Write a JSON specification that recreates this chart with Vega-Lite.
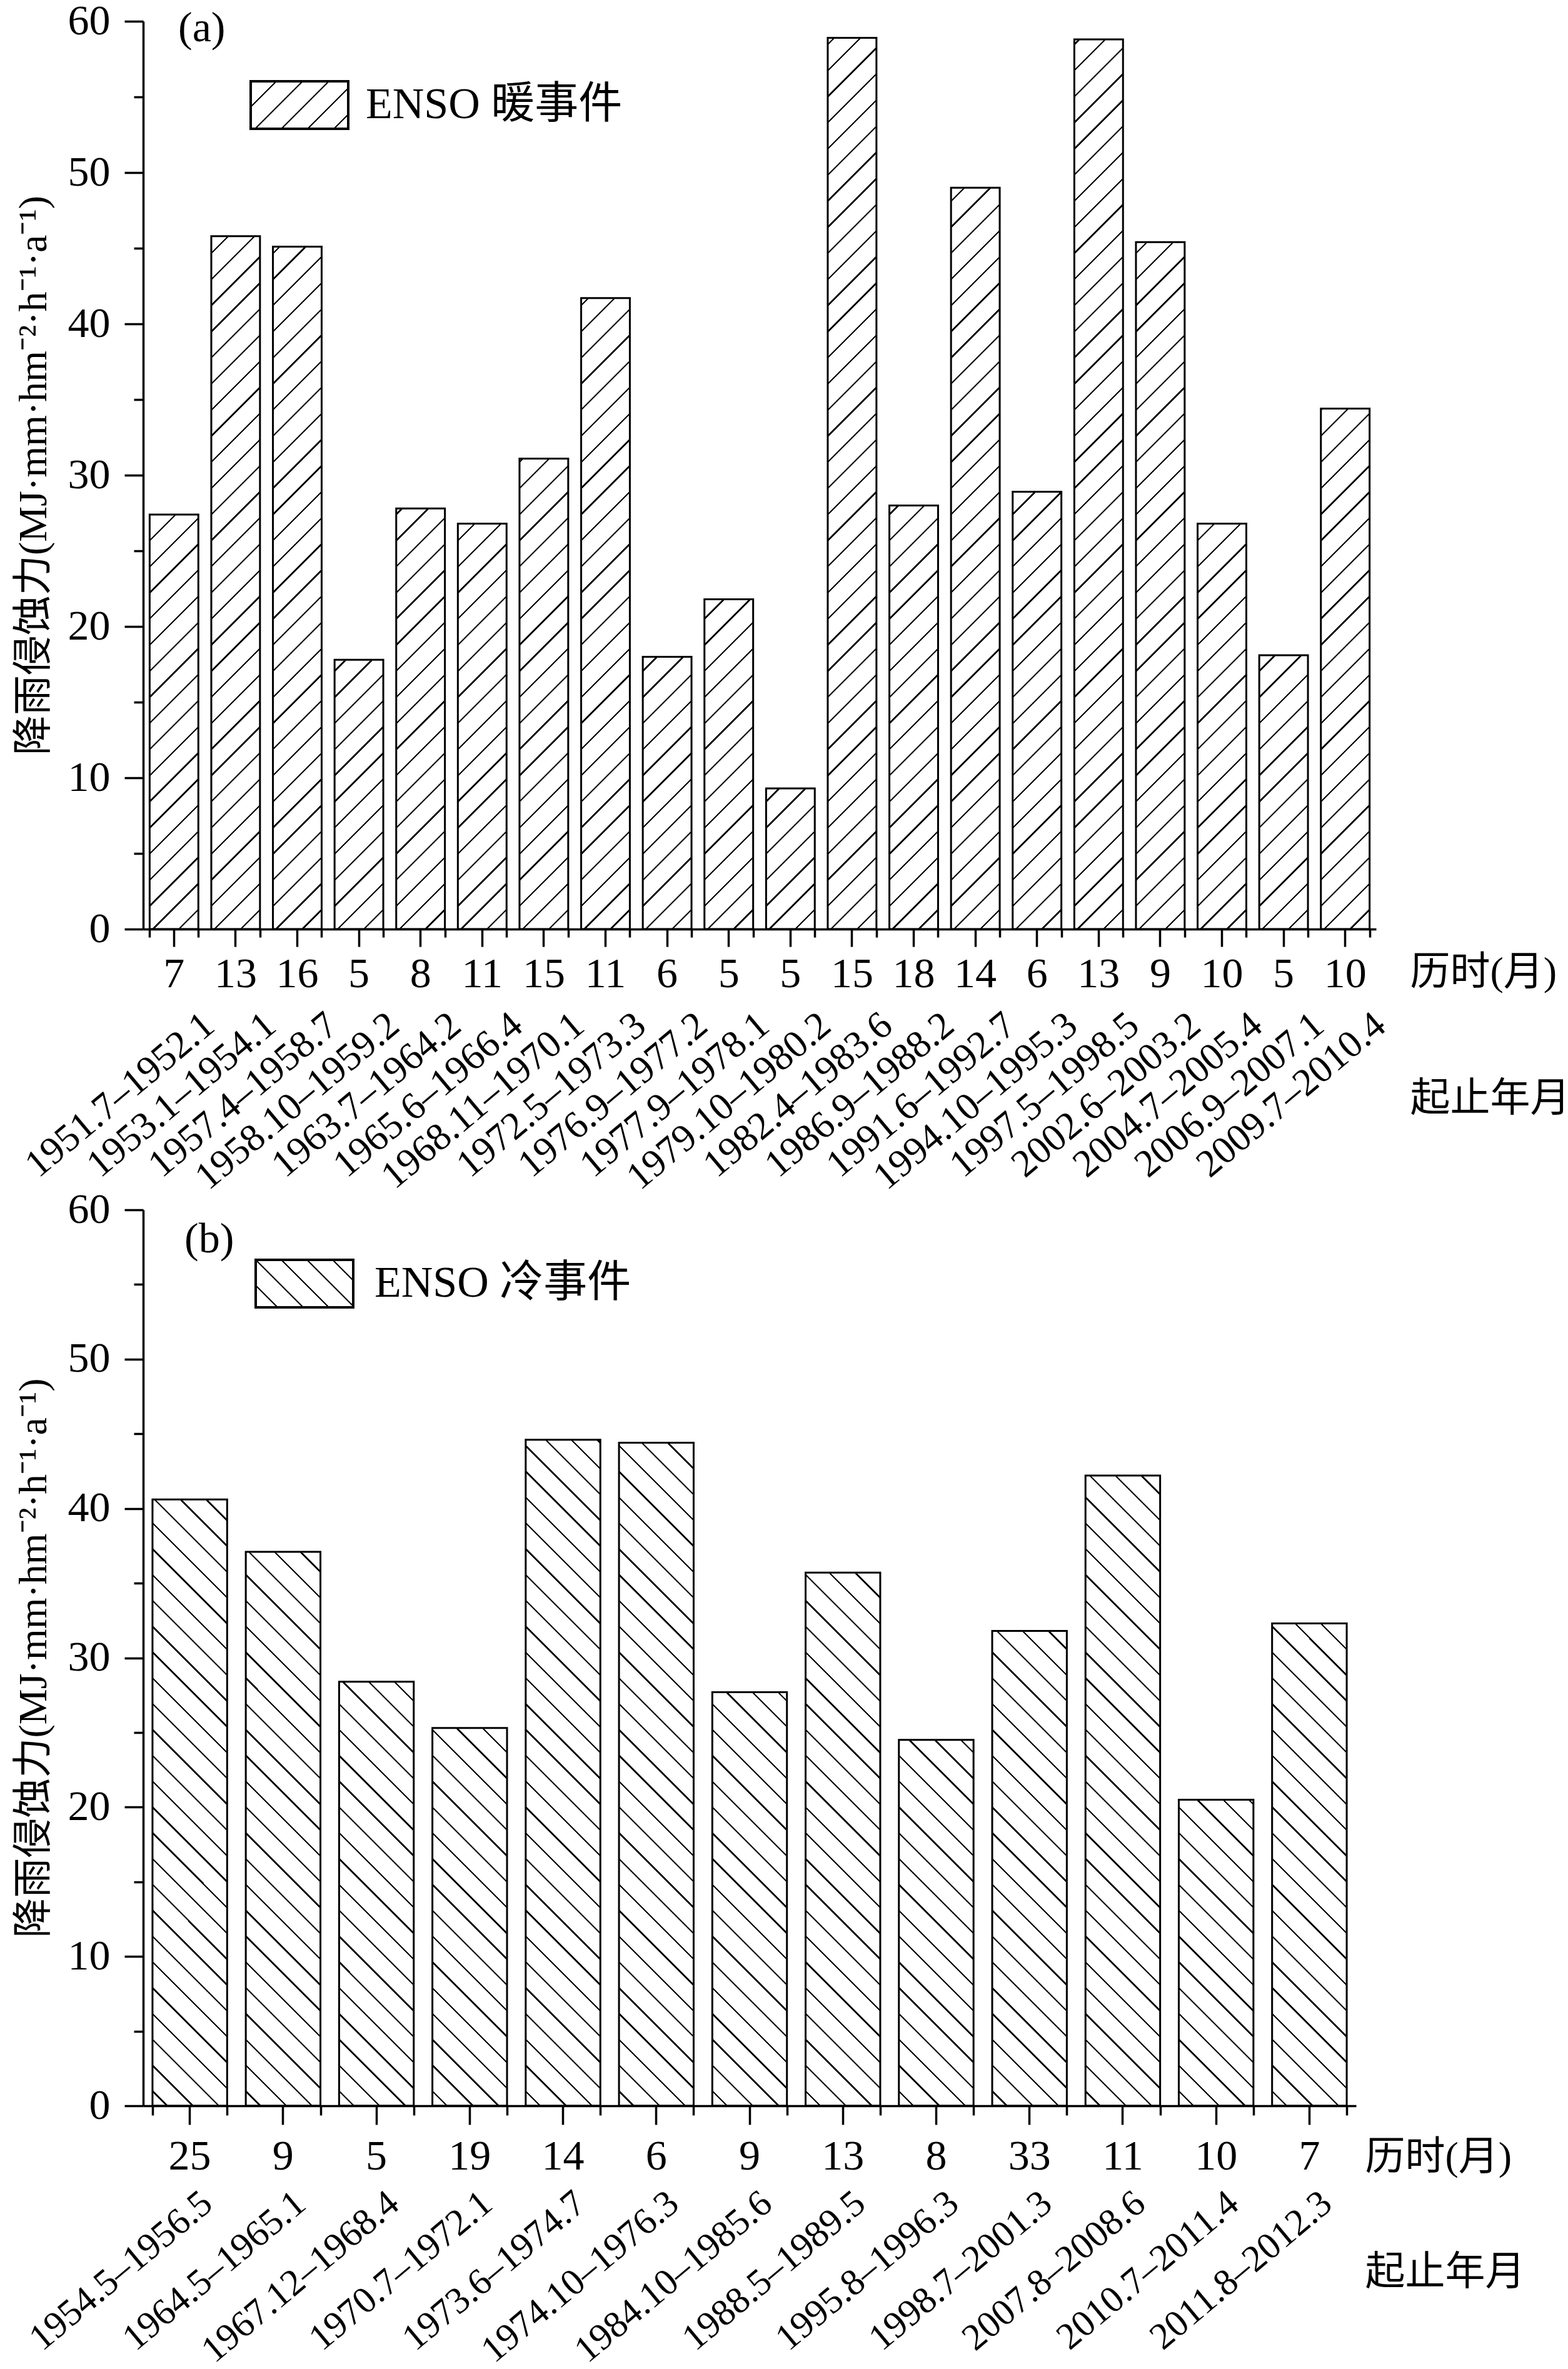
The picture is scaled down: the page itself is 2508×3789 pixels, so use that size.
{
  "$schema": "https://vega.github.io/schema/vega-lite/v6.json",
  "padding": {"left": 22, "top": 0, "right": 0, "bottom": 0},
  "bounds": "flush",
  "spacing": 449,
  "resolve": {"scale": {"stroke": "independent"}, "legend": {"stroke": "independent"}},
  "vconcat": [
    {
      "width": 1972,
      "height": 1452,
      "title": {"text": "(a)", "anchor": "start", "frame": "group", "orient": "top", "offset": 0, "dx": 56, "dy": 134, "baseline": "alphabetic"},
      "data": {
        "values": [
          {"period": "1951.7–1952.1", "months": 7, "R": 27.4},
          {"period": "1953.1–1954.1", "months": 13, "R": 45.8},
          {"period": "1957.4–1958.7", "months": 16, "R": 45.1},
          {"period": "1958.10–1959.2", "months": 5, "R": 17.8},
          {"period": "1963.7–1964.2", "months": 8, "R": 27.8},
          {"period": "1965.6–1966.4", "months": 11, "R": 26.8},
          {"period": "1968.11–1970.1", "months": 15, "R": 31.1},
          {"period": "1972.5–1973.3", "months": 11, "R": 41.7},
          {"period": "1976.9–1977.2", "months": 6, "R": 18.0},
          {"period": "1977.9–1978.1", "months": 5, "R": 21.8},
          {"period": "1979.10–1980.2", "months": 5, "R": 9.3},
          {"period": "1982.4–1983.6", "months": 15, "R": 58.9},
          {"period": "1986.9–1988.2", "months": 18, "R": 28.0},
          {"period": "1991.6–1992.7", "months": 14, "R": 49.0},
          {"period": "1994.10–1995.3", "months": 6, "R": 28.9},
          {"period": "1997.5–1998.5", "months": 13, "R": 58.8},
          {"period": "2002.6–2003.2", "months": 9, "R": 45.4},
          {"period": "2004.7–2005.4", "months": 10, "R": 26.8},
          {"period": "2006.9–2007.1", "months": 5, "R": 18.1},
          {"period": "2009.7–2010.4", "months": 10, "R": 34.4}
        ]
      },
      "transform": [{"calculate": "datum.months + '|' + datum.period", "as": "key"}],
      "layer": [
        {
          "mark": {
            "type": "bar",
            "strokeWidth": 0,
            "fill": {
              "gradient": "linear", "x1": 0, "y1": 0, "x2": 0.05637, "y2": 1.05063,
              "stops": [
                {"offset":0.0231,"color":"#fff"},{"offset":0.0231,"color":"#000"},{"offset":0.0253,"color":"#000"},{"offset":0.0253,"color":"#fff"},
                {"offset":0.0504,"color":"#fff"},{"offset":0.0504,"color":"#000"},{"offset":0.0526,"color":"#000"},{"offset":0.0526,"color":"#fff"},
                {"offset":0.0777,"color":"#fff"},{"offset":0.0777,"color":"#000"},{"offset":0.0799,"color":"#000"},{"offset":0.0799,"color":"#fff"},
                {"offset":0.1050,"color":"#fff"},{"offset":0.1050,"color":"#000"},{"offset":0.1072,"color":"#000"},{"offset":0.1072,"color":"#fff"},
                {"offset":0.1323,"color":"#fff"},{"offset":0.1323,"color":"#000"},{"offset":0.1345,"color":"#000"},{"offset":0.1345,"color":"#fff"},
                {"offset":0.1596,"color":"#fff"},{"offset":0.1596,"color":"#000"},{"offset":0.1618,"color":"#000"},{"offset":0.1618,"color":"#fff"},
                {"offset":0.1869,"color":"#fff"},{"offset":0.1869,"color":"#000"},{"offset":0.1891,"color":"#000"},{"offset":0.1891,"color":"#fff"},
                {"offset":0.2142,"color":"#fff"},{"offset":0.2142,"color":"#000"},{"offset":0.2164,"color":"#000"},{"offset":0.2164,"color":"#fff"},
                {"offset":0.2415,"color":"#fff"},{"offset":0.2415,"color":"#000"},{"offset":0.2437,"color":"#000"},{"offset":0.2437,"color":"#fff"},
                {"offset":0.2688,"color":"#fff"},{"offset":0.2688,"color":"#000"},{"offset":0.2710,"color":"#000"},{"offset":0.2710,"color":"#fff"},
                {"offset":0.2961,"color":"#fff"},{"offset":0.2961,"color":"#000"},{"offset":0.2983,"color":"#000"},{"offset":0.2983,"color":"#fff"},
                {"offset":0.3234,"color":"#fff"},{"offset":0.3234,"color":"#000"},{"offset":0.3256,"color":"#000"},{"offset":0.3256,"color":"#fff"},
                {"offset":0.3507,"color":"#fff"},{"offset":0.3507,"color":"#000"},{"offset":0.3529,"color":"#000"},{"offset":0.3529,"color":"#fff"},
                {"offset":0.3780,"color":"#fff"},{"offset":0.3780,"color":"#000"},{"offset":0.3802,"color":"#000"},{"offset":0.3802,"color":"#fff"},
                {"offset":0.4053,"color":"#fff"},{"offset":0.4053,"color":"#000"},{"offset":0.4075,"color":"#000"},{"offset":0.4075,"color":"#fff"},
                {"offset":0.4326,"color":"#fff"},{"offset":0.4326,"color":"#000"},{"offset":0.4348,"color":"#000"},{"offset":0.4348,"color":"#fff"},
                {"offset":0.4599,"color":"#fff"},{"offset":0.4599,"color":"#000"},{"offset":0.4621,"color":"#000"},{"offset":0.4621,"color":"#fff"},
                {"offset":0.4872,"color":"#fff"},{"offset":0.4872,"color":"#000"},{"offset":0.4894,"color":"#000"},{"offset":0.4894,"color":"#fff"},
                {"offset":0.5145,"color":"#fff"},{"offset":0.5145,"color":"#000"},{"offset":0.5167,"color":"#000"},{"offset":0.5167,"color":"#fff"},
                {"offset":0.5418,"color":"#fff"},{"offset":0.5418,"color":"#000"},{"offset":0.5440,"color":"#000"},{"offset":0.5440,"color":"#fff"},
                {"offset":0.5691,"color":"#fff"},{"offset":0.5691,"color":"#000"},{"offset":0.5713,"color":"#000"},{"offset":0.5713,"color":"#fff"},
                {"offset":0.5964,"color":"#fff"},{"offset":0.5964,"color":"#000"},{"offset":0.5986,"color":"#000"},{"offset":0.5986,"color":"#fff"},
                {"offset":0.6237,"color":"#fff"},{"offset":0.6237,"color":"#000"},{"offset":0.6259,"color":"#000"},{"offset":0.6259,"color":"#fff"},
                {"offset":0.6510,"color":"#fff"},{"offset":0.6510,"color":"#000"},{"offset":0.6532,"color":"#000"},{"offset":0.6532,"color":"#fff"},
                {"offset":0.6783,"color":"#fff"},{"offset":0.6783,"color":"#000"},{"offset":0.6805,"color":"#000"},{"offset":0.6805,"color":"#fff"},
                {"offset":0.7056,"color":"#fff"},{"offset":0.7056,"color":"#000"},{"offset":0.7078,"color":"#000"},{"offset":0.7078,"color":"#fff"},
                {"offset":0.7329,"color":"#fff"},{"offset":0.7329,"color":"#000"},{"offset":0.7351,"color":"#000"},{"offset":0.7351,"color":"#fff"},
                {"offset":0.7602,"color":"#fff"},{"offset":0.7602,"color":"#000"},{"offset":0.7624,"color":"#000"},{"offset":0.7624,"color":"#fff"},
                {"offset":0.7875,"color":"#fff"},{"offset":0.7875,"color":"#000"},{"offset":0.7897,"color":"#000"},{"offset":0.7897,"color":"#fff"},
                {"offset":0.8148,"color":"#fff"},{"offset":0.8148,"color":"#000"},{"offset":0.8170,"color":"#000"},{"offset":0.8170,"color":"#fff"},
                {"offset":0.8421,"color":"#fff"},{"offset":0.8421,"color":"#000"},{"offset":0.8443,"color":"#000"},{"offset":0.8443,"color":"#fff"},
                {"offset":0.8694,"color":"#fff"},{"offset":0.8694,"color":"#000"},{"offset":0.8716,"color":"#000"},{"offset":0.8716,"color":"#fff"},
                {"offset":0.8967,"color":"#fff"},{"offset":0.8967,"color":"#000"},{"offset":0.8989,"color":"#000"},{"offset":0.8989,"color":"#fff"},
                {"offset":0.9240,"color":"#fff"},{"offset":0.9240,"color":"#000"},{"offset":0.9262,"color":"#000"},{"offset":0.9262,"color":"#fff"},
                {"offset":0.9513,"color":"#fff"},{"offset":0.9513,"color":"#000"},{"offset":0.9535,"color":"#000"},{"offset":0.9535,"color":"#fff"},
                {"offset":0.9786,"color":"#fff"},{"offset":0.9786,"color":"#000"},{"offset":0.9808,"color":"#000"},{"offset":0.9808,"color":"#fff"}
              ]
            }
          },
          "encoding": {
            "x": {"field": "key", "type": "nominal", "sort": null,
                  "scale": {"paddingInner": 0.21, "paddingOuter": 0.105},
                  "axis": {"orient": "bottom", "tickBand": "extent", "labels": false, "domain": false, "tickSize": 13, "title": null, "zindex": 1}},
            "y": {"datum": 60, "type": "quantitative", "scale": {"domain": [0, 60], "nice": false}, "axis": null},
            "y2": {"datum": 0}
          }
        },
        {
          "mark": {"type": "bar", "fill": "white", "stroke": "white", "strokeWidth": 2.5},
          "encoding": {
            "x": {"field": "key", "type": "nominal", "sort": null,
                  "axis": {"orient": "bottom", "domain": false, "ticks": false, "tickSize": 0,
                           "labelExpr": "slice(datum.label, indexof(datum.label, '|') + 1)",
                           "labelAngle": -40, "labelAlign": "right", "labelBaseline": "middle",
                           "labelOffset": 56, "labelPadding": 145, "labelFontSize": 62,
                           "title": "起止年月", "titleAngle": 0, "titleAlign": "left", "titleBaseline": "middle",
                           "titleX": 2026, "titleY": 271}},
            "y": {"field": "R", "type": "quantitative",
                  "axis": {"orient": "left", "values": [5, 15, 25, 35, 45, 55], "labels": false, "domain": false, "tickSize": 15, "title": null, "zindex": 1}},
            "y2": {"datum": 60}
          }
        },
        {
          "mark": {"type": "rect", "filled": false, "strokeWidth": 3},
          "encoding": {
            "x": {"field": "key", "type": "nominal", "sort": null,
                  "axis": {"orient": "bottom", "tickSize": 28,
                           "labelExpr": "slice(datum.label, 0, indexof(datum.label, '|'))",
                           "labelAngle": 0, "labelPadding": 10,
                           "title": "历时(月)", "titleAngle": 0, "titleAlign": "left", "titleBaseline": "middle",
                           "titleX": 2026, "titleY": 69, "zindex": 1}},
            "y": {"field": "R", "type": "quantitative",
                  "axis": {"orient": "left", "values": [0, 10, 20, 30, 40, 50, 60], "tickSize": 30, "labelPadding": 23,
                           "title": "降雨侵蚀力(MJ·mm·hm⁻²·h⁻¹·a⁻¹)", "titlePadding": 22, "zindex": 1}},
            "y2": {"datum": 0},
            "stroke": {"datum": "ENSO 暖事件", "type": "nominal", "scale": {"range": ["black"]},
                       "legend": {"orient": "none", "legendX": 170, "legendY": 54, "title": null, "padding": 0,
                                  "symbolType": "M-1,-0.4872L1,-0.4872L1,0.4872L-1,0.4872Z", "symbolSize": 24336,
                                  "symbolStrokeWidth": 4, "labelOffset": 26,
                                  "symbolFillColor": {"value": {
                                    "gradient": "linear", "x1": 0, "y1": 0, "x2": 1.2019, "y2": 0.5856,
                                    "stops": [
                                      {"offset":0.1694,"color":"#fff"},{"offset":0.1694,"color":"#000"},{"offset":0.1840,"color":"#000"},{"offset":0.1840,"color":"#fff"},
                                      {"offset":0.3505,"color":"#fff"},{"offset":0.3505,"color":"#000"},{"offset":0.3651,"color":"#000"},{"offset":0.3651,"color":"#fff"},
                                      {"offset":0.5315,"color":"#fff"},{"offset":0.5315,"color":"#000"},{"offset":0.5461,"color":"#000"},{"offset":0.5461,"color":"#fff"},
                                      {"offset":0.7125,"color":"#fff"},{"offset":0.7125,"color":"#000"},{"offset":0.7271,"color":"#000"},{"offset":0.7271,"color":"#fff"},
                                      {"offset":0.8936,"color":"#fff"},{"offset":0.8936,"color":"#000"},{"offset":0.9082,"color":"#000"},{"offset":0.9082,"color":"#fff"}
                                    ]
                                  }}}}
          }
        }
      ],
      "resolve": {"axis": {"x": "independent", "y": "independent"}}
    },
    {
      "width": 1940,
      "height": 1433,
      "title": {"text": "(b)", "anchor": "start", "frame": "group", "orient": "top", "offset": 0, "dx": 66, "dy": 170, "baseline": "alphabetic"},
      "data": {
        "values": [
          {"period": "1954.5–1956.5", "months": 25, "R": 40.6},
          {"period": "1964.5–1965.1", "months": 9, "R": 37.1},
          {"period": "1967.12–1968.4", "months": 5, "R": 28.4},
          {"period": "1970.7–1972.1", "months": 19, "R": 25.3},
          {"period": "1973.6–1974.7", "months": 14, "R": 44.6},
          {"period": "1974.10–1976.3", "months": 6, "R": 44.4},
          {"period": "1984.10–1985.6", "months": 9, "R": 27.7},
          {"period": "1988.5–1989.5", "months": 13, "R": 35.7},
          {"period": "1995.8–1996.3", "months": 8, "R": 24.5},
          {"period": "1998.7–2001.3", "months": 33, "R": 31.8},
          {"period": "2007.8–2008.6", "months": 11, "R": 42.2},
          {"period": "2010.7–2011.4", "months": 10, "R": 20.5},
          {"period": "2011.8–2012.3", "months": 7, "R": 32.3}
        ]
      },
      "transform": [{"calculate": "datum.months + '|' + datum.period", "as": "key"}],
      "layer": [
        {
          "mark": {
            "type": "bar",
            "strokeWidth": 0,
            "fill": {
              "gradient": "linear", "x1": 0, "y1": 1, "x2": 0.08964, "y2": -0.07585,
              "stops": [
                {"offset":0.0140,"color":"#fff"},{"offset":0.0140,"color":"#000"},{"offset":0.0162,"color":"#000"},{"offset":0.0162,"color":"#fff"},
                {"offset":0.0406,"color":"#fff"},{"offset":0.0406,"color":"#000"},{"offset":0.0428,"color":"#000"},{"offset":0.0428,"color":"#fff"},
                {"offset":0.0672,"color":"#fff"},{"offset":0.0672,"color":"#000"},{"offset":0.0694,"color":"#000"},{"offset":0.0694,"color":"#fff"},
                {"offset":0.0938,"color":"#fff"},{"offset":0.0938,"color":"#000"},{"offset":0.0960,"color":"#000"},{"offset":0.0960,"color":"#fff"},
                {"offset":0.1204,"color":"#fff"},{"offset":0.1204,"color":"#000"},{"offset":0.1226,"color":"#000"},{"offset":0.1226,"color":"#fff"},
                {"offset":0.1470,"color":"#fff"},{"offset":0.1470,"color":"#000"},{"offset":0.1492,"color":"#000"},{"offset":0.1492,"color":"#fff"},
                {"offset":0.1736,"color":"#fff"},{"offset":0.1736,"color":"#000"},{"offset":0.1758,"color":"#000"},{"offset":0.1758,"color":"#fff"},
                {"offset":0.2002,"color":"#fff"},{"offset":0.2002,"color":"#000"},{"offset":0.2024,"color":"#000"},{"offset":0.2024,"color":"#fff"},
                {"offset":0.2268,"color":"#fff"},{"offset":0.2268,"color":"#000"},{"offset":0.2290,"color":"#000"},{"offset":0.2290,"color":"#fff"},
                {"offset":0.2534,"color":"#fff"},{"offset":0.2534,"color":"#000"},{"offset":0.2556,"color":"#000"},{"offset":0.2556,"color":"#fff"},
                {"offset":0.2800,"color":"#fff"},{"offset":0.2800,"color":"#000"},{"offset":0.2822,"color":"#000"},{"offset":0.2822,"color":"#fff"},
                {"offset":0.3066,"color":"#fff"},{"offset":0.3066,"color":"#000"},{"offset":0.3088,"color":"#000"},{"offset":0.3088,"color":"#fff"},
                {"offset":0.3332,"color":"#fff"},{"offset":0.3332,"color":"#000"},{"offset":0.3354,"color":"#000"},{"offset":0.3354,"color":"#fff"},
                {"offset":0.3598,"color":"#fff"},{"offset":0.3598,"color":"#000"},{"offset":0.3620,"color":"#000"},{"offset":0.3620,"color":"#fff"},
                {"offset":0.3864,"color":"#fff"},{"offset":0.3864,"color":"#000"},{"offset":0.3886,"color":"#000"},{"offset":0.3886,"color":"#fff"},
                {"offset":0.4130,"color":"#fff"},{"offset":0.4130,"color":"#000"},{"offset":0.4152,"color":"#000"},{"offset":0.4152,"color":"#fff"},
                {"offset":0.4396,"color":"#fff"},{"offset":0.4396,"color":"#000"},{"offset":0.4418,"color":"#000"},{"offset":0.4418,"color":"#fff"},
                {"offset":0.4662,"color":"#fff"},{"offset":0.4662,"color":"#000"},{"offset":0.4684,"color":"#000"},{"offset":0.4684,"color":"#fff"},
                {"offset":0.4928,"color":"#fff"},{"offset":0.4928,"color":"#000"},{"offset":0.4950,"color":"#000"},{"offset":0.4950,"color":"#fff"},
                {"offset":0.5194,"color":"#fff"},{"offset":0.5194,"color":"#000"},{"offset":0.5216,"color":"#000"},{"offset":0.5216,"color":"#fff"},
                {"offset":0.5460,"color":"#fff"},{"offset":0.5460,"color":"#000"},{"offset":0.5482,"color":"#000"},{"offset":0.5482,"color":"#fff"},
                {"offset":0.5726,"color":"#fff"},{"offset":0.5726,"color":"#000"},{"offset":0.5748,"color":"#000"},{"offset":0.5748,"color":"#fff"},
                {"offset":0.5992,"color":"#fff"},{"offset":0.5992,"color":"#000"},{"offset":0.6014,"color":"#000"},{"offset":0.6014,"color":"#fff"},
                {"offset":0.6258,"color":"#fff"},{"offset":0.6258,"color":"#000"},{"offset":0.6280,"color":"#000"},{"offset":0.6280,"color":"#fff"},
                {"offset":0.6524,"color":"#fff"},{"offset":0.6524,"color":"#000"},{"offset":0.6546,"color":"#000"},{"offset":0.6546,"color":"#fff"},
                {"offset":0.6790,"color":"#fff"},{"offset":0.6790,"color":"#000"},{"offset":0.6812,"color":"#000"},{"offset":0.6812,"color":"#fff"},
                {"offset":0.7056,"color":"#fff"},{"offset":0.7056,"color":"#000"},{"offset":0.7078,"color":"#000"},{"offset":0.7078,"color":"#fff"},
                {"offset":0.7322,"color":"#fff"},{"offset":0.7322,"color":"#000"},{"offset":0.7344,"color":"#000"},{"offset":0.7344,"color":"#fff"},
                {"offset":0.7588,"color":"#fff"},{"offset":0.7588,"color":"#000"},{"offset":0.7610,"color":"#000"},{"offset":0.7610,"color":"#fff"},
                {"offset":0.7854,"color":"#fff"},{"offset":0.7854,"color":"#000"},{"offset":0.7876,"color":"#000"},{"offset":0.7876,"color":"#fff"},
                {"offset":0.8120,"color":"#fff"},{"offset":0.8120,"color":"#000"},{"offset":0.8142,"color":"#000"},{"offset":0.8142,"color":"#fff"},
                {"offset":0.8386,"color":"#fff"},{"offset":0.8386,"color":"#000"},{"offset":0.8408,"color":"#000"},{"offset":0.8408,"color":"#fff"},
                {"offset":0.8652,"color":"#fff"},{"offset":0.8652,"color":"#000"},{"offset":0.8674,"color":"#000"},{"offset":0.8674,"color":"#fff"},
                {"offset":0.8918,"color":"#fff"},{"offset":0.8918,"color":"#000"},{"offset":0.8940,"color":"#000"},{"offset":0.8940,"color":"#fff"},
                {"offset":0.9184,"color":"#fff"},{"offset":0.9184,"color":"#000"},{"offset":0.9206,"color":"#000"},{"offset":0.9206,"color":"#fff"},
                {"offset":0.9450,"color":"#fff"},{"offset":0.9450,"color":"#000"},{"offset":0.9472,"color":"#000"},{"offset":0.9472,"color":"#fff"},
                {"offset":0.9716,"color":"#fff"},{"offset":0.9716,"color":"#000"},{"offset":0.9738,"color":"#000"},{"offset":0.9738,"color":"#fff"}
              ]
            }
          },
          "encoding": {
            "x": {"field": "key", "type": "nominal", "sort": null,
                  "scale": {"paddingInner": 0.2, "paddingOuter": 0.1},
                  "axis": {"orient": "bottom", "tickBand": "extent", "labels": false, "domain": false, "tickSize": 15, "title": null, "zindex": 1}},
            "y": {"datum": 60, "type": "quantitative", "scale": {"domain": [0, 60], "nice": false}, "axis": null},
            "y2": {"datum": 0}
          }
        },
        {
          "mark": {"type": "bar", "fill": "white", "stroke": "white", "strokeWidth": 2.5},
          "encoding": {
            "x": {"field": "key", "type": "nominal", "sort": null,
                  "axis": {"orient": "bottom", "domain": false, "ticks": false, "tickSize": 0,
                           "labelExpr": "slice(datum.label, indexof(datum.label, '|') + 1)",
                           "labelAngle": -40, "labelAlign": "right", "labelBaseline": "middle",
                           "labelOffset": 28, "labelPadding": 148, "labelFontSize": 60,
                           "title": "起止年月", "titleAngle": 0, "titleAlign": "left", "titleBaseline": "middle",
                           "titleX": 1954, "titleY": 266}},
            "y": {"field": "R", "type": "quantitative",
                  "axis": {"orient": "left", "values": [5, 15, 25, 35, 45, 55], "labels": false, "domain": false, "tickSize": 15, "title": null, "zindex": 1}},
            "y2": {"datum": 60}
          }
        },
        {
          "mark": {"type": "rect", "filled": false, "strokeWidth": 3},
          "encoding": {
            "x": {"field": "key", "type": "nominal", "sort": null,
                  "axis": {"orient": "bottom", "tickSize": 30,
                           "labelExpr": "slice(datum.label, 0, indexof(datum.label, '|'))",
                           "labelAngle": 0, "labelPadding": 17,
                           "title": "历时(月)", "titleAngle": 0, "titleAlign": "left", "titleBaseline": "middle",
                           "titleX": 1954, "titleY": 82, "zindex": 1}},
            "y": {"field": "R", "type": "quantitative",
                  "axis": {"orient": "left", "values": [0, 10, 20, 30, 40, 50, 60], "tickSize": 30, "labelPadding": 23,
                           "title": "降雨侵蚀力(MJ·mm·hm⁻²·h⁻¹·a⁻¹)", "titlePadding": 22, "zindex": 1}},
            "y2": {"datum": 0},
            "stroke": {"datum": "ENSO 冷事件", "type": "nominal", "scale": {"range": ["black"]},
                       "legend": {"orient": "none", "legendX": 178, "legendY": 38, "title": null, "padding": 0,
                                  "symbolType": "M-1,-0.4872L1,-0.4872L1,0.4872L-1,0.4872Z", "symbolSize": 24336,
                                  "symbolStrokeWidth": 4, "labelOffset": 32,
                                  "symbolFillColor": {"value": {
                                    "gradient": "linear", "x1": 0, "y1": 1, "x2": 1.2019, "y2": 0.4144,
                                    "stops": [
                                      {"offset":0.1436,"color":"#fff"},{"offset":0.1436,"color":"#000"},{"offset":0.1582,"color":"#000"},{"offset":0.1582,"color":"#fff"},
                                      {"offset":0.3203,"color":"#fff"},{"offset":0.3203,"color":"#000"},{"offset":0.3349,"color":"#000"},{"offset":0.3349,"color":"#fff"},
                                      {"offset":0.4970,"color":"#fff"},{"offset":0.4970,"color":"#000"},{"offset":0.5116,"color":"#000"},{"offset":0.5116,"color":"#fff"},
                                      {"offset":0.6737,"color":"#fff"},{"offset":0.6737,"color":"#000"},{"offset":0.6883,"color":"#000"},{"offset":0.6883,"color":"#fff"},
                                      {"offset":0.8505,"color":"#fff"},{"offset":0.8505,"color":"#000"},{"offset":0.8651,"color":"#000"},{"offset":0.8651,"color":"#fff"}
                                    ]
                                  }}}}
          }
        }
      ],
      "resolve": {"axis": {"x": "independent", "y": "independent"}}
    }
  ],
  "config": {
    "view": {"stroke": null},
    "font": "Liberation Serif, Noto Sans CJK SC",
    "axis": {
      "grid": false,
      "domainColor": "#000", "domainWidth": 3.5,
      "tickColor": "#000", "tickWidth": 3.5,
      "labelColor": "#000", "labelFont": "Liberation Serif, Noto Sans CJK SC", "labelFontSize": 68,
      "titleColor": "#000", "titleFont": "Liberation Serif, Noto Sans CJK SC", "titleFontSize": 64, "titleFontWeight": "normal",
      "labelOverlap": false, "labelLimit": 3000, "labelFlush": false
    },
    "legend": {"labelFont": "Liberation Serif, Noto Sans CJK SC", "labelFontSize": 70, "labelColor": "#000", "labelLimit": 3000},
    "title": {"font": "Liberation Serif, Noto Sans CJK SC", "fontSize": 68, "fontWeight": "normal", "color": "#000"}
  }
}
